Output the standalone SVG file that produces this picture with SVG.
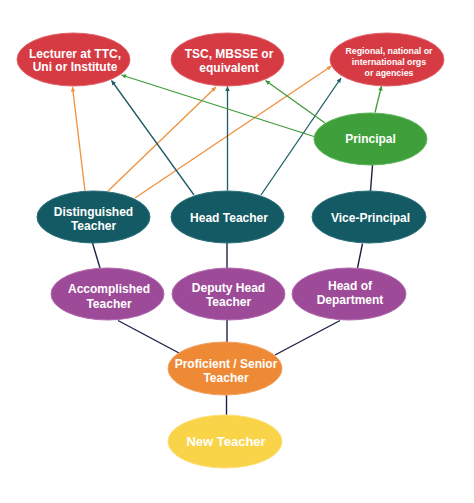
<svg xmlns="http://www.w3.org/2000/svg" width="474" height="503" viewBox="0 0 474 503">
  <style>
    .lbl { font-family: "Liberation Sans", Arial, sans-serif; font-weight: bold; font-size: 12px; fill: #ffffff; text-anchor: middle; }
    .sm { font-size: 8.8px; }
    .big { font-size: 13px; }
    .red { fill: #d63a43; stroke: #e2626a; stroke-width: 1; }
    .green { fill: #3f9f3b; stroke: #5db55a; stroke-width: 1; }
    .teal { fill: #145a64; stroke: #2c7079; stroke-width: 1; }
    .purple { fill: #9d4b98; stroke: #b26aae; stroke-width: 1; }
    .orange { fill: #ee8a36; stroke: #f3a161; stroke-width: 1; }
    .yellow { fill: #f9d448; stroke: #fbe07a; stroke-width: 1; }
    .c-or { stroke: #f0903a; stroke-width: 1.3; fill: none; marker-end: url(#a-or); }
    .c-te { stroke: #1d5a66; stroke-width: 1.3; fill: none; marker-end: url(#a-te); }
    .c-gr { stroke: #3e9b3a; stroke-width: 1.3; fill: none; marker-end: url(#a-gr); }
    .c-nv { stroke: #1a2148; stroke-width: 1.4; fill: none; }
  </style>
  <defs>
    <marker id="a-or" viewBox="0 0 10 10" refX="10" refY="5" markerWidth="5.5" markerHeight="4.5" markerUnits="userSpaceOnUse" orient="auto">
      <path d="M0,0 L10,5 L0,10 z" fill="#f0903a"/>
    </marker>
    <marker id="a-te" viewBox="0 0 10 10" refX="10" refY="5" markerWidth="5.5" markerHeight="4.5" markerUnits="userSpaceOnUse" orient="auto">
      <path d="M0,0 L10,5 L0,10 z" fill="#1d5a66"/>
    </marker>
    <marker id="a-gr" viewBox="0 0 10 10" refX="10" refY="5" markerWidth="5.5" markerHeight="4.5" markerUnits="userSpaceOnUse" orient="auto">
      <path d="M0,0 L10,5 L0,10 z" fill="#3e9b3a"/>
    </marker>
  </defs>
  <rect x="0" y="0" width="474" height="503" fill="#ffffff"/>

  <g id="connectors">
    <line class="c-or" x1="85" y1="191" x2="72.5" y2="87"/>
    <line class="c-or" x1="108" y1="191" x2="216" y2="87"/>
    <line class="c-or" x1="135" y1="198" x2="331.5" y2="66"/>
    <line class="c-te" x1="194" y1="195" x2="111.5" y2="80.5"/>
    <line class="c-te" x1="227.5" y1="190.5" x2="227.5" y2="86.5"/>
    <line class="c-te" x1="261" y1="195" x2="341" y2="78"/>
    <line class="c-gr" x1="314" y1="136.5" x2="121.5" y2="75"/>
    <line class="c-gr" x1="325" y1="123" x2="265.5" y2="80.5"/>
    <line class="c-gr" x1="375" y1="112.5" x2="381.5" y2="86"/>
    <line class="c-nv" x1="372.5" y1="165" x2="370.5" y2="191"/>
    <line class="c-nv" x1="92.5" y1="243" x2="100" y2="268"/>
    <line class="c-nv" x1="227" y1="243" x2="227" y2="268"/>
    <line class="c-nv" x1="362.5" y1="243.5" x2="357.5" y2="268"/>
    <line class="c-nv" x1="118" y1="320.5" x2="179" y2="353"/>
    <line class="c-nv" x1="227" y1="320" x2="227" y2="342"/>
    <line class="c-nv" x1="340" y1="320.5" x2="275" y2="355"/>
    <line class="c-nv" x1="226.5" y1="395" x2="226.5" y2="415"/>
  </g>

  <g id="lecturer">
    <ellipse class="red" cx="73.5" cy="59.5" rx="56.5" ry="26.5"/>
    <text class="lbl" x="75" y="57.5">Lecturer at TTC,</text>
    <text class="lbl" x="75" y="71">Uni or Institute</text>
  </g>
  <g id="tsc">
    <ellipse class="red" cx="227.5" cy="59.5" rx="56.5" ry="26.5"/>
    <text class="lbl" x="229" y="58">TSC, MBSSE or</text>
    <text class="lbl" x="229" y="71.5">equivalent</text>
  </g>
  <g id="regional">
    <ellipse class="red" cx="387" cy="59.5" rx="57" ry="26.5"/>
    <text class="lbl sm" x="389" y="53.5">Regional, national or</text>
    <text class="lbl sm" x="389" y="64.5">international orgs</text>
    <text class="lbl sm" x="389" y="75.5">or agencies</text>
  </g>
  <g id="principal">
    <ellipse class="green" cx="370.5" cy="139" rx="56.5" ry="26"/>
    <text class="lbl" x="370.5" y="142.5">Principal</text>
  </g>
  <g id="distinguished">
    <ellipse class="teal" cx="93.5" cy="217" rx="56.5" ry="26"/>
    <text class="lbl" x="93.5" y="215.5">Distinguished</text>
    <text class="lbl" x="93.5" y="230">Teacher</text>
  </g>
  <g id="head-teacher">
    <ellipse class="teal" cx="227.5" cy="217" rx="56.5" ry="26"/>
    <text class="lbl" x="229" y="222">Head Teacher</text>
  </g>
  <g id="vice-principal">
    <ellipse class="teal" cx="369" cy="217" rx="57" ry="26"/>
    <text class="lbl" x="370.5" y="222">Vice-Principal</text>
  </g>
  <g id="accomplished">
    <ellipse class="purple" cx="107.5" cy="294" rx="56.5" ry="26"/>
    <text class="lbl" x="109" y="293">Accomplished</text>
    <text class="lbl" x="109" y="307.5">Teacher</text>
  </g>
  <g id="deputy-head">
    <ellipse class="purple" cx="228.5" cy="294" rx="56.5" ry="26"/>
    <text class="lbl" x="228.5" y="292">Deputy Head</text>
    <text class="lbl" x="228.5" y="306">Teacher</text>
  </g>
  <g id="head-of-department">
    <ellipse class="purple" cx="349" cy="294" rx="57" ry="26"/>
    <text class="lbl" x="350" y="289.5">Head of</text>
    <text class="lbl" x="350" y="303.5">Department</text>
  </g>
  <g id="proficient">
    <ellipse class="orange" cx="225" cy="368.5" rx="57" ry="26.5"/>
    <text class="lbl" x="226" y="367.5">Proficient / Senior</text>
    <text class="lbl" x="226" y="381.5">Teacher</text>
  </g>
  <g id="new-teacher">
    <ellipse class="yellow" cx="225" cy="441.5" rx="57" ry="26.5"/>
    <text class="lbl big" x="226" y="445.5">New Teacher</text>
  </g>
</svg>
